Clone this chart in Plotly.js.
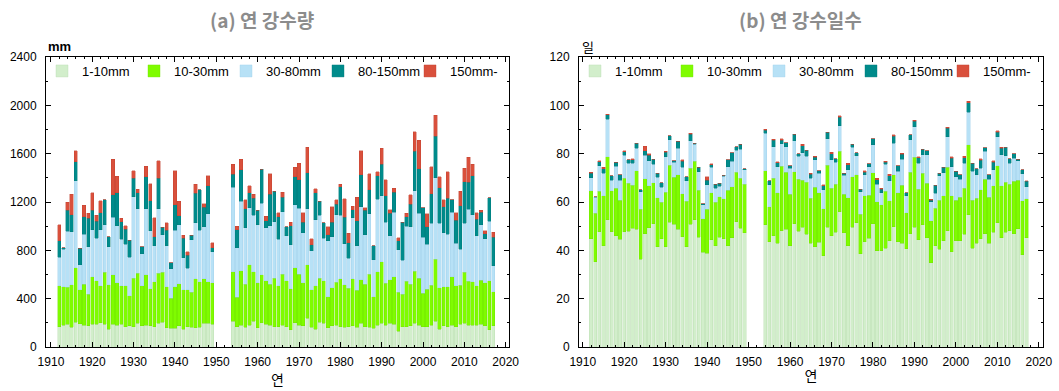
<!DOCTYPE html>
<html>
<head>
<meta charset="utf-8">
<script src="https://cdn.plot.ly/plotly-3.0.1.min.js"></script>
<style>html,body{margin:0;padding:0;background:#fff}#chart{width:1059px;height:391px}</style>
</head>
<body>
<div id="chart"></div>
<script>
// ---- data ----
const years = [1912,1913,1914,1915,1916,1917,1918,1919,1920,1921,1922,1923,1924,1925,1926,1927,1928,1929,1930,1931,1932,1933,1934,1935,1936,1937,1938,1939,1940,1941,1942,1943,1944,1945,1946,1947,1948,1949,
1954,1955,1956,1957,1958,1959,1960,1961,1962,1963,1964,1965,1966,1967,1968,1969,1970,1971,1972,1973,1974,1975,1976,1977,1978,1979,1980,1981,1982,1983,1984,1985,1986,1987,1988,1989,1990,1991,1992,1993,1994,1995,1996,1997,1998,1999,2000,2001,2002,2003,2004,2005,2006,2007,2008,2009,2010,2011,2012,2013,2014,2015,2016,2017];

const seriesNames = ['1-10mm','10-30mm','30-80mm','80-150mm','150mm-'];

// (a) annual precipitation (mm) by daily-intensity class
const amt_1_10 = [168,182,190,163,204,193,179,174,188,188,199,190,146,190,182,190,168,174,166,196,177,182,177,168,196,204,160,155,155,177,149,168,163,160,163,196,196,190,
215,168,182,163,182,215,160,201,190,182,168,168,182,168,141,199,182,177,237,163,149,204,196,160,177,182,168,163,168,177,163,196,168,163,155,182,196,182,196,188,132,168,168,174,196,182,168,168,182,215,146,177,168,182,168,190,196,182,182,182,188,177,141,177];
const amt_10_30 = [337,317,306,351,453,279,339,262,395,359,306,428,370,406,351,315,337,251,403,414,328,414,304,373,414,414,339,248,342,345,323,304,290,403,378,367,345,342,
408,243,450,356,497,408,373,395,359,337,403,337,422,381,342,458,420,356,442,309,359,364,351,257,315,353,397,351,317,386,306,359,351,439,262,442,511,345,359,395,320,270,378,345,433,386,276,312,331,513,345,323,331,400,337,323,422,364,359,323,364,356,406,282];
const amt_30_80 = [237,309,464,439,720,207,414,395,386,351,464,392,315,477,472,386,345,317,673,533,265,549,480,295,533,312,337,243,469,489,265,179,436,464,425,431,560,257,
698,411,574,469,472,466,477,593,439,486,466,386,516,370,362,519,546,411,466,323,544,524,353,461,420,558,527,342,248,508,370,607,408,500,304,599,544,505,364,533,351,279,455,477,665,538,464,370,511,673,533,447,433,533,353,295,406,593,552,414,458,362,494,213];
const amt_80_150 = [138,14,171,141,157,138,144,235,163,141,144,207,83,185,273,146,124,141,155,135,61,265,251,77,254,63,130,52,210,75,163,108,36,246,334,163,232,33,
110,149,259,157,127,141,121,284,55,259,251,188,121,77,160,235,235,88,298,50,226,113,130,50,121,88,235,218,130,66,207,262,204,199,116,196,262,218,188,163,77,315,77,185,328,370,243,146,243,345,295,215,298,102,193,362,345,224,323,138,105,44,196,235];
const amt_150p = [130,0,66,171,91,0,99,39,146,50,99,0,0,295,135,28,28,0,61,28,0,86,141,157,144,0,61,0,282,121,25,28,0,72,0,28,86,39,
80,28,88,72,58,33,0,0,39,168,0,33,39,0,28,75,138,80,210,52,30,0,0,69,127,36,22,152,80,28,193,201,22,132,0,33,132,135,28,36,25,0,28,77,160,237,0,105,226,174,91,55,221,0,61,121,110,207,97,55,17,22,0,44];

// (b) annual number of precipitation days by class
const day_1_10 = [44.7,35.3,47.7,41.8,52.6,47.7,46.1,44.6,47.7,48.0,49.1,48.7,36.3,46.8,49.4,50.9,41.5,44.7,41.5,51.6,50.8,48.7,45.7,41.5,50.8,52.6,45.4,39.2,38.8,44.3,41.9,45.4,44.7,41.9,45.3,51.9,49.1,47.3,
50.5,43.6,46.1,42.9,48.2,48.7,41.9,50.9,48.0,49.5,46.6,42.9,41.5,43.3,37.7,49.5,46.1,47.5,56.0,47.3,41.8,49.5,51.5,38.5,43.6,45.0,50.9,39.9,39.9,40.8,43.9,49.8,43.6,42.9,40.6,46.8,49.5,44.3,50.5,45.3,34.9,41.9,40.4,44.0,48.2,39.5,44.0,44.0,46.6,54.7,40.8,42.9,44.7,46.8,42.9,47.5,51.5,45.3,47.5,48.2,46.8,48.9,38.1,45.3];
const day_10_30 = [20.0,20.0,16.8,20.8,26.2,17.0,19.6,16.1,22.1,19.7,17.9,24.2,20.7,22.8,17.3,17.1,20.3,15.2,22.5,23.7,19.5,22.5,17.7,18.9,23.2,24.2,19.5,13.8,18.2,19.6,17.9,16.8,16.6,23.0,21.1,20.4,20.7,20.0,
22.4,14.4,23.7,21.0,26.5,23.6,21.4,21.7,21.5,19.6,21.5,18.6,24.6,20.6,19.5,25.8,19.6,19.9,25.1,16.0,20.0,21.0,19.7,16.4,18.9,17.7,21.3,20.3,18.9,23.7,16.7,21.4,20.3,24.0,15.0,25.5,29.0,21.0,21.4,22.5,17.3,15.5,20.4,18.6,26.1,23.0,16.8,17.9,19.0,29.0,20.0,18.6,20.3,22.6,19.0,19.2,23.5,21.4,20.7,19.2,21.7,20.0,22.5,16.0];
const day_30_80 = [5.4,6.6,10.5,9.2,15.5,4.4,9.0,8.3,9.5,8.3,9.0,9.4,7.3,9.7,10.4,7.7,8.4,6.2,14.8,10.4,6.1,11.0,10.9,8.4,11.3,7.2,7.7,5.8,10.1,10.4,5.8,4.4,9.4,9.7,10.4,9.2,12.0,6.1,
15.6,9.1,13.1,10.6,9.4,10.6,10.6,12.7,9.4,11.3,10.9,8.3,11.3,8.0,7.9,10.8,11.7,9.0,10.5,7.7,11.5,12.1,7.9,9.4,8.7,11.9,11.5,7.2,5.0,11.2,8.1,13.1,8.8,10.8,6.9,13.4,12.7,10.8,7.6,11.7,8.0,6.2,10.1,9.5,12.8,12.1,9.7,7.6,10.4,13.4,12.0,9.7,9.0,11.7,7.5,6.6,12.1,12.8,10.9,8.7,9.7,8.1,11.0,5.1];
const day_80_150 = [1.8,0.3,1.7,1.9,1.8,1.8,1.7,2.2,1.5,1.4,1.4,2.1,0.7,1.9,2.2,1.9,1.7,1.9,1.7,1.7,0.7,3.0,2.5,1.7,2.8,0.4,1.8,0.4,1.9,1.2,1.7,1.2,0.4,2.8,3.5,1.4,2.1,0.4,
1.2,1.7,2.6,1.7,1.5,1.7,1.1,2.8,1.0,2.9,2.5,1.7,1.2,1.0,1.7,2.8,2.5,1.4,3.5,1.0,2.2,1.2,1.2,1.0,1.2,1.2,2.5,1.8,1.4,0.7,2.2,2.9,2.2,2.1,1.4,2.1,2.3,2.3,2.3,1.7,0.6,3.3,1.0,2.3,3.5,3.5,2.3,1.7,2.3,3.9,3.2,2.5,3.3,1.4,1.8,3.2,1.8,2.8,3.6,1.8,1.8,0.7,1.7,2.1];
const day_150p = [0.4,0,0.3,0.6,0.3,0,0,0,0.4,0,0.4,0,0,1.8,0.7,0,0,0,0.4,0,0,0,0.7,0,0.4,0,0,0,1.4,0.4,0,0,0,0,0,0,0,0,
0.4,0,0.4,0.4,0.6,0,0,0,0,0.6,0,0.4,0.4,0,0.4,0,0.6,0,0.6,0,0.6,0,0,0,0.6,0,0,0.7,0.4,0.4,0.6,0.6,0,0.4,0,0,0.4,0.4,0,0,0.4,0,0,0,0.4,0.7,0,0,0.6,0.7,0,0,0.6,0,0,0.6,0.6,0.4,0,0,0,0,0,0.3];

const colors = ['#d2eecb','#7ffc00','#b7e1f6','#008b8b','#d9503c'];
const lineColors = ['#b9dcb0','#6fe000','#9fd0ea','#007a7a','#c04030'];

const amtSeries = [amt_1_10, amt_10_30, amt_30_80, amt_80_150, amt_150p];
const daySeries = [day_1_10, day_10_30, day_30_80, day_80_150, day_150p];

const traces = [];
amtSeries.forEach((vals, i) => {
  traces.push({type:'bar', x:years, y:vals, name:seriesNames[i], xaxis:'x', yaxis:'y', legend:'legend',
    marker:{color:colors[i], line:{color:lineColors[i], width:0.4}}, hoverinfo:'x+y+name'});
});
daySeries.forEach((vals, i) => {
  traces.push({type:'bar', x:years, y:vals, name:seriesNames[i], xaxis:'x2', yaxis:'y2', legend:'legend2',
    marker:{color:colors[i], line:{color:lineColors[i], width:0.4}}, hoverinfo:'x+y+name'});
});

const W = 1059, H = 391;
const tickFont = {family:'Liberation Sans Narrow, Liberation Sans, Arial, sans-serif', size:12, color:'#000'};
function xax(domain, range){
  return {domain:domain, range:range, showline:true, linecolor:'#000', linewidth:1, mirror:'ticks',
    ticks:'inside', ticklen:5, tickcolor:'#000', dtick:10, tick0:1910, tickangle:0, showgrid:false, zeroline:false,
    tickfont:tickFont, ticklabelstandoff:4, automargin:false,
    minor:{ticks:'inside', ticklen:2, dtick:2, tickcolor:'#000', showgrid:false},
    title:{text:'연', font:{family:'Noto Sans CJK KR, sans-serif', size:14, color:'#000'}, standoff:2}};
}
function yax(domain, range, dtick, anchor){
  return {domain:domain, range:range, anchor:anchor, showline:true, linecolor:'#000', linewidth:1, mirror:'ticks',
    ticks:'inside', ticklen:5, tickcolor:'#000', dtick:dtick, showgrid:false, zeroline:false,
    tickfont:tickFont, ticklabelstandoff:6, automargin:false,
    minor:{ticks:'inside', ticklen:2, dtick:dtick/2, tickcolor:'#000', showgrid:false}};
}
const ydom = [(H-347)/H, (H-57)/H];
const legFont = {family:'Liberation Sans, Arial, sans-serif', size:13, color:'#000'};

const layout = {
  width:W, height:H, margin:{l:0,r:0,t:0,b:0,autoexpand:false}, paper_bgcolor:'#fff', plot_bgcolor:'#fff',
  barmode:'stack', bargap:0.2, showlegend:true,
  xaxis: Object.assign(xax([46/W, 509/W], [1908.8, 2020.8]), {anchor:'y'}),
  yaxis: yax(ydom, [0, 2400], 400, 'x'),
  xaxis2: Object.assign(xax([579/W, 1043/W], [1909.1, 2021.0]), {anchor:'y2'}),
  yaxis2: yax(ydom, [0, 120], 20, 'x2'),
  legend: {x:42/W, y:1-56/H, xanchor:'left', yanchor:'top', orientation:'h', bgcolor:'rgba(0,0,0,0)',
    font:legFont, entrywidth:47, entrywidthmode:'pixels', itemwidth:30, traceorder:'normal'},
  legend2: {x:575/W, y:1-56/H, xanchor:'left', yanchor:'top', orientation:'h', bgcolor:'rgba(0,0,0,0)',
    font:legFont, entrywidth:47, entrywidthmode:'pixels', itemwidth:30, traceorder:'normal'},
  annotations: [
    {text:'<b>(a) 연 강수량</b>', xref:'paper', yref:'paper', x:262/W, y:1-20/H, xanchor:'center', yanchor:'middle', showarrow:false,
      font:{family:'Noto Sans CJK KR, sans-serif', size:19, color:'#8c8c8c'}},
    {text:'<b>(b) 연 강수일수</b>', xref:'paper', yref:'paper', x:800/W, y:1-20/H, xanchor:'center', yanchor:'middle', showarrow:false,
      font:{family:'Noto Sans CJK KR, sans-serif', size:19, color:'#8c8c8c'}},
    {text:'<b>mm</b>', xref:'paper', yref:'paper', x:46/W, y:1-47/H, xanchor:'left', yanchor:'middle', showarrow:false,
      font:{family:'Liberation Sans, Arial, sans-serif', size:13, color:'#000'}},
    {text:'일', xref:'paper', yref:'paper', x:580/W, y:1-46/H, xanchor:'left', yanchor:'middle', showarrow:false,
      font:{family:'Noto Sans CJK KR, sans-serif', size:13, color:'#000'}}
  ]
};

Plotly.newPlot('chart', traces, layout, {displayModeBar:false, staticPlot:true});
</script>
</body>
</html>
